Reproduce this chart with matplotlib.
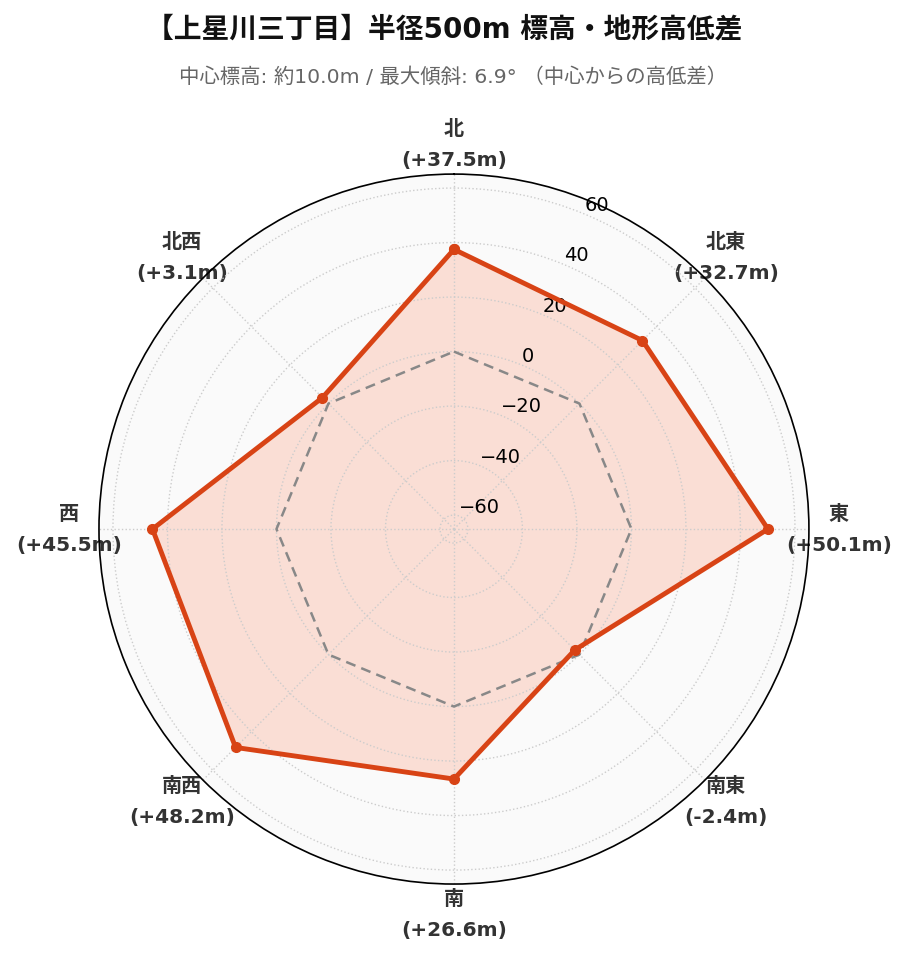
import numpy as np
import matplotlib
matplotlib.use("Agg")
import matplotlib.pyplot as plt

plt.rcParams['font.family'] = ['DejaVu Sans', 'Noto Sans CJK JP']

# 方位と中心からの高低差 [m]
directions = ["北", "北東", "東", "南東", "南", "南西", "西", "北西"]
diffs = [37.5, 32.7, 50.1, -2.4, 26.6, 48.2, 45.5, 3.1]
rticks = [-60, -40, -20, 0, 20, 40, 60]

title = "【上星川三丁目】半径500m 標高・地形高低差"
subtitle = "中心標高: 約10.0m / 最大傾斜: 6.9° （中心からの高低差）"

n = len(directions)
angles = np.arange(n) * 2 * np.pi / n
ang_c = np.append(angles, angles[0])
val_c = np.append(diffs, diffs[0])
lim = max(abs(v) for v in diffs) * 1.3

fig = plt.figure(figsize=(9.07, 9.62), dpi=100)
ax = fig.add_axes([0.109, 0.080, 0.783, 0.738], projection='polar')
ax.set_theta_zero_location('N')
ax.set_theta_direction(-1)
ax.set_facecolor('#fafafa')

ax.plot(ang_c, np.zeros_like(val_c), color='#888888', lw=1.8, ls='--', dashes=(4, 2.5))
ax.fill(ang_c, val_c, color='#ff7043', alpha=0.2, lw=0)
ax.plot(ang_c, val_c, color='#d84315', lw=3.5, marker='o', markersize=7)

ax.set_ylim(-lim, lim)
ax.set_yticks(rticks)
ax.set_yticklabels([str(t).replace('-', '\u2212') for t in rticks], fontsize=14)
ax.set_rlabel_position(22.5)

labels = [f"{d}\n({v:+.1f}m)" for d, v in zip(directions, diffs)]
ax.set_xticks(angles)
ax.set_xticklabels(labels, fontsize=14.5, fontweight='bold', color='#333333',
                   linespacing=1.8)
ax.tick_params(axis='x', pad=11)
ax.grid(color='#cccccc', ls=':', lw=1)
ax.spines['polar'].set_color('black')
ax.spines['polar'].set_linewidth(1.2)

fig.text(0.49, 0.969, title, ha='center', va='center', fontsize=20,
         fontweight='bold', color='#111111')
fig.text(0.5, 0.920, subtitle, ha='center', va='center', fontsize=14.7,
         color='#666666')

fig.savefig("out.png", dpi=100)
